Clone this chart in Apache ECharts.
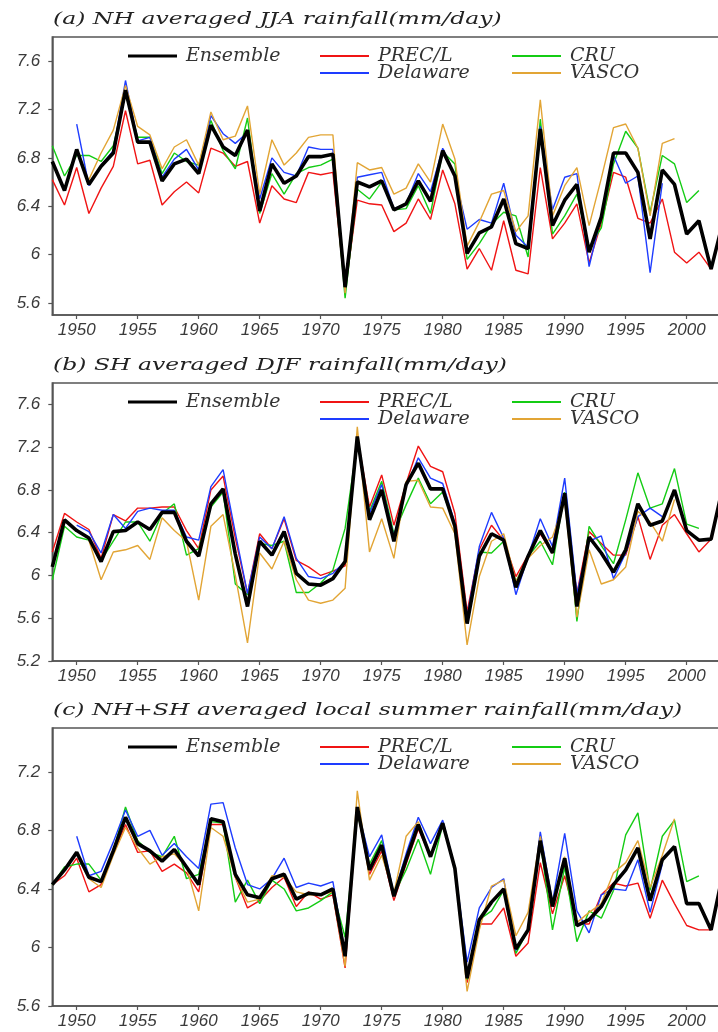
<!DOCTYPE html>
<html>
<head>
<meta charset="utf-8">
<script src="https://cdn.jsdelivr.net/npm/echarts@6/dist/echarts.min.js"></script>
<style>html,body{margin:0;padding:0;background:#fff;}#c{width:718px;height:1032px;}</style>
</head>
<body>
<div id="c"></div>
<script>
const YEARS = [1948,1949,1950,1951,1952,1953,1954,1955,1956,1957,1958,1959,1960,1961,1962,1963,1964,1965,1966,1967,1968,1969,1970,1971,1972,1973,1974,1975,1976,1977,1978,1979,1980,1981,1982,1983,1984,1985,1986,1987,1988,1989,1990,1991,1992,1993,1994,1995,1996,1997,1998,1999,2000,2001,2002,2003];
const X_TICKS = [1950,1955,1960,1965,1970,1975,1980,1985,1990,1995,2000];
const Y_TICKS_A = [5.6,6,6.4,6.8,7.2,7.6];
const Y_TICKS_B = [5.2,5.6,6,6.4,6.8,7.2,7.6];
const Y_TICKS_C = [5.6,6,6.4,6.8,7.2];
const TITLES = ["(a) NH averaged JJA rainfall(mm/day)","(b) SH averaged DJF rainfall(mm/day)","(c) NH+SH averaged local summer rainfall(mm/day)"];
const NAMES = ["Ensemble","PREC/L","CRU","Delaware","VASCO"];

// Panel (a) NH JJA
const A_ENS = [6.77,6.53,6.87,6.58,6.73,6.84,7.36,6.93,6.93,6.61,6.75,6.79,6.67,7.07,6.89,6.82,7.03,6.36,6.75,6.59,6.65,6.81,6.81,6.83,5.73,6.60,6.56,6.61,6.37,6.42,6.61,6.44,6.86,6.65,6.01,6.18,6.23,6.46,6.09,6.05,7.04,6.24,6.45,6.58,6.02,6.31,6.84,6.84,6.68,6.13,6.70,6.58,6.17,6.28,5.88,6.28];
const A_PREC = [6.62,6.41,6.72,6.34,6.55,6.73,7.19,6.75,6.78,6.41,6.52,6.60,6.51,6.88,6.84,6.73,6.77,6.26,6.57,6.46,6.43,6.68,6.66,6.68,5.70,6.45,6.42,6.41,6.19,6.26,6.46,6.29,6.70,6.42,5.88,6.05,5.87,6.28,5.87,5.84,6.72,6.13,6.26,6.42,5.93,6.26,6.68,6.64,6.30,6.26,6.46,6.02,5.93,6.02,5.88,6.28];
const A_CRU = [6.90,6.65,6.82,6.82,6.77,6.90,7.33,6.97,6.97,6.67,6.84,6.77,6.74,7.11,6.86,6.71,7.13,6.34,6.67,6.50,6.67,6.72,6.74,6.79,5.64,6.54,6.46,6.60,6.37,6.38,6.57,6.34,6.85,6.75,5.96,6.09,6.25,6.35,6.32,5.98,7.12,6.17,6.32,6.50,6.06,6.22,6.75,7.02,6.88,6.35,6.82,6.75,6.43,6.53,null,null];
const A_DEL = [null,null,7.08,6.57,6.74,6.86,7.44,6.94,6.97,6.64,6.79,6.87,6.70,7.15,7.00,6.92,7.01,6.46,6.80,6.68,6.65,6.89,6.87,6.87,5.70,6.64,6.66,6.68,6.38,6.42,6.67,6.52,6.88,6.65,6.21,6.29,6.26,6.59,6.16,6.06,7.06,6.37,6.64,6.67,5.90,6.32,6.82,6.59,6.65,5.85,6.59,null,null,null,null,null];
const A_VAS = [null,null,null,6.62,6.84,7.03,7.40,7.06,6.99,6.71,6.89,6.95,6.74,7.18,6.95,6.98,7.23,6.50,6.95,6.74,6.84,6.97,6.99,6.99,5.68,6.76,6.70,6.72,6.50,6.55,6.75,6.60,7.08,6.79,6.07,6.27,6.50,6.53,6.19,6.32,7.28,6.32,6.57,6.72,6.24,6.63,7.05,7.08,6.88,6.32,6.92,6.96,null,null,null,null];

// Panel (b) SH DJF
const B_ENS = [6.08,6.52,6.42,6.35,6.13,6.41,6.42,6.50,6.43,6.59,6.59,6.32,6.18,6.67,6.81,6.20,5.71,6.32,6.19,6.41,6.02,5.92,5.91,5.97,6.13,7.30,6.52,6.80,6.32,6.85,7.05,6.81,6.81,6.46,5.55,6.18,6.39,6.33,5.89,6.18,6.42,6.21,6.77,5.71,6.36,6.21,6.03,6.24,6.67,6.47,6.51,6.80,6.42,6.33,6.34,6.85];
const B_PREC = [6.22,6.58,6.50,6.43,6.16,6.57,6.51,6.63,6.63,6.64,6.64,6.42,6.25,6.80,6.93,6.35,5.83,6.39,6.25,6.53,6.14,6.08,6.00,6.04,6.09,7.30,6.64,6.94,6.47,6.86,7.21,7.02,6.97,6.58,5.66,6.24,6.47,6.33,5.99,6.19,6.39,6.21,6.74,5.83,6.41,6.30,6.19,6.19,6.55,6.15,6.47,6.57,6.39,6.22,6.34,6.85];
const B_CRU = [5.96,6.46,6.36,6.33,6.14,6.32,6.50,6.50,6.32,6.58,6.67,6.19,6.25,6.64,6.78,5.92,5.82,6.30,6.28,6.32,5.84,5.84,5.93,6.05,6.44,7.25,6.60,6.88,6.39,6.66,6.91,6.67,6.78,6.46,5.58,6.22,6.21,6.32,5.94,6.18,6.32,6.10,6.78,5.57,6.46,6.28,6.11,6.52,6.96,6.63,6.67,7.00,6.48,6.44,null,null];
const B_DEL = [null,null,6.47,6.41,6.21,6.57,6.44,6.60,6.63,6.61,6.61,6.36,6.33,6.83,6.99,6.40,5.83,6.36,6.25,6.55,6.16,5.99,5.97,6.02,6.13,7.27,6.58,6.85,6.36,6.83,7.10,6.91,6.86,6.49,5.61,6.27,6.59,6.35,5.82,6.18,6.53,6.27,6.91,5.83,6.32,6.37,5.97,6.21,6.55,6.63,6.55,null,null,null,null,null];
const B_VAS = [null,null,null,6.33,5.96,6.22,6.24,6.28,6.15,6.54,6.42,6.32,5.77,6.46,6.57,6.00,5.37,6.21,6.06,6.32,5.96,5.77,5.74,5.77,5.88,7.39,6.22,6.53,6.16,6.88,6.89,6.64,6.63,6.39,5.35,5.99,6.32,6.39,5.94,6.16,6.28,6.36,6.69,5.61,6.24,5.92,5.96,6.08,6.60,6.50,6.32,6.71,null,null,null,null];

// Panel (c) NH+SH local summer
const C_ENS = [6.43,6.53,6.65,6.48,6.45,6.66,6.89,6.71,6.66,6.59,6.67,6.55,6.43,6.88,6.86,6.50,6.36,6.34,6.47,6.50,6.33,6.37,6.36,6.40,5.94,6.96,6.53,6.70,6.35,6.60,6.84,6.62,6.85,6.54,5.79,6.19,6.31,6.40,5.99,6.12,6.73,6.28,6.61,6.15,6.19,6.28,6.43,6.53,6.68,6.32,6.60,6.69,6.30,6.30,6.12,6.52];
const C_PREC = [6.43,6.49,6.61,6.38,6.43,6.64,6.84,6.65,6.66,6.52,6.57,6.51,6.38,6.84,6.84,6.48,6.27,6.32,6.41,6.48,6.28,6.38,6.33,6.36,5.86,6.94,6.50,6.66,6.32,6.57,6.81,6.62,6.84,6.55,5.76,6.16,6.16,6.27,5.94,6.03,6.58,6.23,6.49,6.16,6.16,6.36,6.44,6.42,6.44,6.20,6.46,6.30,6.15,6.12,6.12,6.52];
const C_CRU = [6.43,6.55,6.57,6.57,6.46,6.66,6.96,6.73,6.65,6.62,6.76,6.47,6.50,6.86,6.85,6.31,6.46,6.30,6.46,6.40,6.25,6.27,6.32,6.38,6.07,6.92,6.57,6.73,6.36,6.53,6.74,6.50,6.84,6.55,5.78,6.19,6.25,6.39,5.96,6.12,6.72,6.12,6.55,6.04,6.25,6.20,6.39,6.77,6.92,6.39,6.76,6.87,6.45,6.49,null,null];
const C_DEL = [null,null,6.76,6.49,6.52,6.72,6.94,6.76,6.80,6.63,6.71,6.62,6.54,6.98,6.99,6.68,6.43,6.40,6.47,6.61,6.41,6.44,6.42,6.45,5.96,6.95,6.62,6.77,6.36,6.64,6.89,6.71,6.87,6.55,5.90,6.27,6.41,6.47,5.98,6.12,6.79,6.31,6.78,6.25,6.10,6.36,6.40,6.39,6.60,6.24,6.57,null,null,null,null,null];
const C_VAS = [null,null,null,6.47,6.41,6.63,6.82,6.68,6.57,6.62,6.64,6.55,6.25,6.82,6.76,6.48,6.31,6.33,6.49,6.48,6.38,6.36,6.36,6.38,5.87,7.07,6.46,6.63,6.37,6.76,6.86,6.63,6.84,6.54,5.70,6.12,6.42,6.46,6.08,6.24,6.76,6.30,6.62,6.17,6.24,6.30,6.51,6.58,6.73,6.41,6.63,6.88,null,null,null,null];

const PANELS = [
  {top: 37, ymin: 5.5, ymax: 7.8, ticks: Y_TICKS_A, data: [A_ENS, A_PREC, A_CRU, A_DEL, A_VAS]},
  {top: 383, ymin: 5.2, ymax: 7.8, ticks: Y_TICKS_B, data: [B_ENS, B_PREC, B_CRU, B_DEL, B_VAS]},
  {top: 728, ymin: 5.6, ymax: 7.5, ticks: Y_TICKS_C, data: [C_ENS, C_PREC, C_CRU, C_DEL, C_VAS]}
];
const COLORS = {"Ensemble":"#000000","PREC/L":"#f01414","CRU":"#14cc14","Delaware":"#1e3cff","VASCO":"#e2a535"};
const WIDTHS = {"Ensemble":3.6,"PREC/L":1.4,"CRU":1.4,"Delaware":1.4,"VASCO":1.4};
// legend slots: [name, left, row]
const LEG_SLOTS = [["Ensemble",128,0],["PREC/L",320,0],["CRU",512,0],["Delaware",320,1],["VASCO",512,1]];

const GRID_H = 278, LEFT = 52.3, PXYR = 12.2, XMIN = 1948, XMAX = 2005;
const axisTxt = {fontFamily: 'Liberation Sans', fontStyle: 'italic', fontSize: 17, color: '#3a3a3a'};

const grid = [], xAxis = [], yAxis = [], series = [], legend = [], graphic = [];
PANELS.forEach((p, i) => {
  grid.push({left: LEFT, top: p.top, width: (XMAX - XMIN) * PXYR, height: GRID_H, show: true, borderColor: '#555', borderWidth: 1.5, containLabel: false, outerBoundsMode: 'none'});
  xAxis.push({type: 'value', gridIndex: i, min: XMIN, max: XMAX,
    axisLine: {show: true, onZero: false, lineStyle: {color: '#555', width: 1.5}},
    axisTick: {show: true, length: 4, customValues: X_TICKS, lineStyle: {color: '#555', width: 1.2}},
    axisLabel: Object.assign({customValues: X_TICKS, margin: 7, formatter: v => String(v)}, axisTxt),
    splitLine: {show: false}});
  yAxis.push({type: 'value', gridIndex: i, min: p.ymin, max: p.ymax,
    axisLine: {show: true, lineStyle: {color: '#555', width: 1.5}},
    axisTick: {show: true, length: 4, customValues: p.ticks, lineStyle: {color: '#555', width: 1.2}},
    axisLabel: Object.assign({customValues: p.ticks, margin: 12}, axisTxt),
    splitLine: {show: false}});
  // draw coloured first, ensemble last
  [1, 2, 3, 4, 0].forEach(k => {
    const name = NAMES[k];
    series.push({type: 'line', name: name, xAxisIndex: i, yAxisIndex: i,
      data: YEARS.map((yr, j) => [yr, p.data[k][j]]),
      symbol: 'none', showSymbol: false, connectNulls: false, animation: false,
      color: COLORS[name],
      lineStyle: {color: COLORS[name], width: WIDTHS[name]},
      z: k === 0 ? 5 : 3});
  });
  LEG_SLOTS.forEach(s => {
    const name = s[0];
    legend.push({data: [name], left: s[1], top: p.top + 19 + s[2] * 17 - 10, padding: 0, itemGap: 0,
      itemWidth: 49, itemHeight: name === 'Ensemble' ? 3 : 2, icon: 'rect', selectedMode: false,
      textStyle: {fontFamily: 'DejaVu Serif', fontStyle: 'italic', fontSize: 19, lineHeight: 20, color: '#333', padding: [0, 0, 0, 4]}});
  });
  graphic.push({type: 'text', x: 53, y: p.top - 17.5, scaleX: 1.47, scaleY: 1,
    style: {text: TITLES[i], fontFamily: 'DejaVu Serif', fontStyle: 'italic', fontSize: 16, fill: '#222', verticalAlign: 'middle', align: 'left'}});
});

const chart = echarts.init(document.getElementById('c'), null, {renderer: 'canvas'});
chart.setOption({animation: false, backgroundColor: '#fff', grid, xAxis, yAxis, series, legend, graphic, tooltip: {show: false}});
</script>
</body>
</html>
